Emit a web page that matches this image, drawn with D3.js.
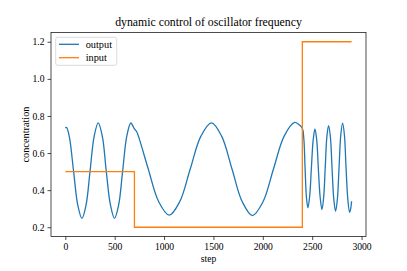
<!DOCTYPE html>
<html>
<head>
<meta charset="utf-8">
<script src="https://cdn.jsdelivr.net/npm/d3@7"></script>
<style>
  body { margin: 0; background: #fff; }
  text { font-family: "Liberation Serif", "DejaVu Serif", serif; fill: #000; }
</style>
</head>
<body>
<div id="chart"></div>
<script>
// values
const outSteps = [0, 12, 40, 84, 126, 168, 210, 250, 292, 333, 375, 415, 457, 498, 540, 580, 622, 663, 685, 700, 722,
  750, 840, 946, 1052, 1158, 1265, 1372, 1480, 1584, 1688, 1792, 1895, 2002, 2108, 2215, 2322, 2362, 2400,
  2415, 2428, 2442, 2457, 2475, 2492, 2510, 2528, 2546, 2563, 2581, 2599, 2616, 2632, 2649, 2666, 2684, 2701,
  2719, 2737, 2755, 2772, 2790, 2808, 2826, 2843, 2861, 2879, 2890, 2899];
const outValues = [0.735, 0.738, 0.69, 0.50, 0.32, 0.248, 0.32, 0.50, 0.69, 0.763, 0.69, 0.50, 0.32, 0.248, 0.32, 0.50, 0.69, 0.762, 0.745, 0.73, 0.716,
  0.675, 0.514, 0.337, 0.265, 0.337, 0.514, 0.69, 0.763, 0.69, 0.514, 0.337, 0.263, 0.337, 0.514, 0.69, 0.765, 0.755, 0.734,
  0.68, 0.52, 0.36, 0.305, 0.37, 0.52, 0.67, 0.73, 0.67, 0.51, 0.36, 0.295, 0.36, 0.52, 0.69, 0.748, 0.69, 0.52,
  0.35, 0.286, 0.35, 0.52, 0.70, 0.761, 0.70, 0.52, 0.35, 0.28, 0.30, 0.34];

const inSteps = [0, 700, 2400, 2899];
const inValues = [0.5, 0.2, 1.2, 1.2];

const xTicks = [0, 500, 1000, 1500, 2000, 2500, 3000];
const yTicks = [0.2, 0.4, 0.6, 0.8, 1.0, 1.2];

const seriesNames = ['output', 'input'];
const colors = ['#1f77b4', '#ff7f0e'];

const W = 407, H = 271;
const margin = { left: 51, right: 41, top: 32.5, bottom: 34.5 };
const width = W - margin.left - margin.right;
const height = H - margin.top - margin.bottom;

const svg = d3.select('#chart').append('svg')
  .attr('width', W).attr('height', H);

const g = svg.append('g')
  .attr('transform', 'translate(' + margin.left + ',' + margin.top + ')');

const scX = d3.scaleLinear().domain([-145, 3045]).range([0, width]);
const scY = d3.scaleLinear().domain([0.15, 1.25]).range([height, 0]);

// axes
const xAxis = g.append('g')
  .attr('transform', 'translate(0,' + height + ')')
  .call(d3.axisBottom(scX).tickValues(xTicks).tickSize(3.5).tickPadding(3.5).tickFormat(d3.format('d')));
const yAxis = g.append('g')
  .call(d3.axisLeft(scY).tickValues(yTicks).tickSize(3.5).tickPadding(3).tickFormat(d3.format('.1f')));

[xAxis, yAxis].forEach(a => {
  a.select('.domain').remove();
  a.selectAll('line').attr('stroke', '#000').attr('stroke-width', 0.7);
  a.selectAll('text').attr('font-size', 9.6).style('font-family', '"Liberation Serif", serif');
});

// lines
const outData = outSteps.map((s, i) => [s, outValues[i]]);
const inData = inSteps.map((s, i) => [s, inValues[i]]);

const lnOut = d3.line().curve(d3.curveCatmullRom.alpha(0.5))
  .x(d => scX(d[0])).y(d => scY(d[1]));
const lnIn = d3.line().curve(d3.curveStepAfter)
  .x(d => scX(d[0])).y(d => scY(d[1]));

g.append('path').attr('fill', 'none').attr('stroke', colors[0]).attr('stroke-width', 1.3)
  .attr('d', lnOut(outData));
g.append('path').attr('fill', 'none').attr('stroke', colors[1]).attr('stroke-width', 1.3)
  .attr('d', lnIn(inData));

// frame
g.append('rect').attr('width', width).attr('height', height)
  .attr('fill', 'none').attr('stroke', '#000').attr('stroke-width', 0.7);

// legend
const leg = g.append('g').attr('transform', 'translate(4.7,4.8)');
leg.append('rect').attr('width', 61).attr('height', 28).attr('rx', 2)
  .attr('fill', '#fff').attr('fill-opacity', 0.8).attr('stroke', '#ccc').attr('stroke-width', 0.7);
seriesNames.forEach((name, i) => {
  const y = 7 + i * 13.4;
  leg.append('line').attr('x1', 3.3).attr('x2', 23.3).attr('y1', y).attr('y2', y)
    .attr('stroke', colors[i]).attr('stroke-width', 1.3);
  leg.append('text').attr('x', 30).attr('y', y).attr('dy', '0.35em')
    .attr('font-size', 10.3).text(name);
});

// title and labels
svg.append('text').attr('x', margin.left + width / 2).attr('y', 26)
  .attr('text-anchor', 'middle').attr('font-size', 11.8)
  .text('dynamic control of oscillator frequency');
svg.append('text').attr('x', margin.left + width / 2).attr('y', 261.5)
  .attr('text-anchor', 'middle').attr('font-size', 9.6).text('step');
svg.append('text').attr('transform', 'translate(28.5,' + (margin.top + height / 2) + ') rotate(-90)')
  .attr('text-anchor', 'middle').attr('font-size', 10.3).text('concentration');
</script>
</body>
</html>
